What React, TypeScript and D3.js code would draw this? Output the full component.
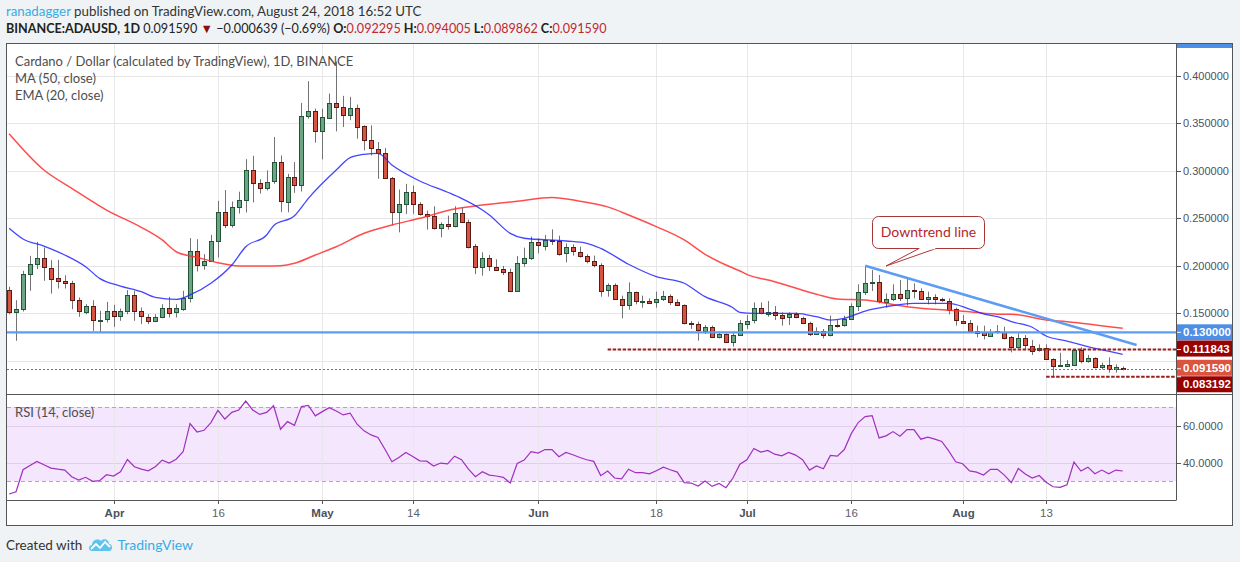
import { useEffect, useRef } from "react";
import * as d3 from "d3";

// Daily candles from 2018-03-17 to 2018-08-24
const START_DATE = "2018-03-17";

const opens = [
  0.1744, 0.1508, 0.1543, 0.1912, 0.2017, 0.2081, 0.1982, 0.187, 0.1838, 0.1814,
  0.1638, 0.1519, 0.1579, 0.1428, 0.1431, 0.1519, 0.1466, 0.1519, 0.1691, 0.1519,
  0.1466, 0.1428, 0.1466, 0.1561, 0.1508, 0.1554, 0.1666, 0.2158, 0.2007, 0.2052,
  0.2263, 0.2568, 0.2428, 0.2621, 0.2691, 0.3007, 0.287, 0.282, 0.2887, 0.3092,
  0.268, 0.294, 0.2852, 0.3574, 0.3627, 0.3415, 0.3563, 0.3718, 0.3672, 0.3591,
  0.3665, 0.3468, 0.332, 0.3232, 0.319, 0.2926, 0.257, 0.2652, 0.2782, 0.2652,
  0.2546, 0.2521, 0.2398, 0.244, 0.2423, 0.2557, 0.2465, 0.2205, 0.1983, 0.2079,
  0.199, 0.1963, 0.1931, 0.1731, 0.2026, 0.2079, 0.2247, 0.2216, 0.2275, 0.2265,
  0.2131, 0.2195, 0.2149, 0.2107, 0.2054, 0.2009, 0.1738, 0.1794, 0.1647, 0.158,
  0.172, 0.1626, 0.1629, 0.1612, 0.1647, 0.1682, 0.1622, 0.1587, 0.1394, 0.1384,
  0.1317, 0.1359, 0.1254, 0.1282, 0.1194, 0.1271, 0.1394, 0.1422, 0.1552, 0.15,
  0.1517, 0.1485, 0.1454, 0.1489, 0.1454, 0.1401, 0.1285, 0.1317, 0.1278, 0.138,
  0.1373, 0.1436, 0.1577, 0.1721, 0.1815, 0.1826, 0.1622, 0.165, 0.17, 0.1657,
  0.1745, 0.1738, 0.1647, 0.1668, 0.1647, 0.1633, 0.1542, 0.1422, 0.1401, 0.1317,
  0.1307, 0.1264, 0.131, 0.1307, 0.1247, 0.1138, 0.1236, 0.1156, 0.1106, 0.1131,
  0.1015, 0.0942, 0.0949, 0.0949, 0.111, 0.0991, 0.1026, 0.0927, 0.0952, 0.0906,
  0.0923,
];
const highs = [
  0.1779, 0.1638, 0.1947, 0.2105, 0.2252, 0.2193, 0.2059, 0.2063, 0.1901, 0.1842,
  0.1666, 0.1596, 0.1638, 0.1526, 0.162, 0.1589, 0.155, 0.1744, 0.1737, 0.1561,
  0.149, 0.149, 0.1596, 0.1673, 0.1596, 0.1737, 0.2291, 0.228, 0.2123, 0.2326,
  0.2684, 0.2797, 0.2677, 0.278, 0.3123, 0.3158, 0.2912, 0.3004, 0.3356, 0.3162,
  0.2968, 0.3092, 0.3715, 0.3943, 0.3655, 0.3655, 0.3813, 0.415, 0.3789, 0.3778,
  0.3697, 0.3479, 0.3479, 0.3303, 0.324, 0.2935, 0.2803, 0.2863, 0.2845, 0.2669,
  0.2581, 0.2627, 0.2458, 0.2528, 0.2627, 0.2616, 0.2486, 0.223, 0.2142, 0.2114,
  0.2068, 0.1999, 0.197, 0.2103, 0.2191, 0.2307, 0.229, 0.2324, 0.2384, 0.2317,
  0.2237, 0.2226, 0.2202, 0.2121, 0.2107, 0.2026, 0.1815, 0.1815, 0.1686, 0.1826,
  0.1728, 0.1686, 0.1657, 0.1728, 0.1735, 0.17, 0.1647, 0.1594, 0.1419, 0.1412,
  0.1377, 0.137, 0.1307, 0.1289, 0.13, 0.1429, 0.1482, 0.1615, 0.1615, 0.1629,
  0.1577, 0.151, 0.151, 0.151, 0.1464, 0.1412, 0.1352, 0.1335, 0.1475, 0.1429,
  0.1475, 0.1605, 0.1805, 0.2001, 0.1956, 0.1903, 0.171, 0.1805, 0.185, 0.1868,
  0.1815, 0.1763, 0.1728, 0.17, 0.1664, 0.1657, 0.1559, 0.1482, 0.1429, 0.137,
  0.137, 0.1335, 0.1377, 0.1359, 0.1261, 0.1289, 0.1271, 0.1219, 0.1173, 0.1173,
  0.1026, 0.1085, 0.1008, 0.112, 0.1142, 0.1061, 0.1036, 0.098, 0.1036, 0.0963,
  0.094,
];
const lows = [
  0.149, 0.121, 0.1519, 0.1737, 0.1965, 0.1842, 0.1708, 0.1761, 0.1761, 0.1543,
  0.1463, 0.149, 0.1315, 0.1298, 0.1403, 0.1357, 0.1421, 0.149, 0.1421, 0.1386,
  0.1386, 0.1407, 0.1449, 0.1456, 0.1456, 0.1526, 0.1614, 0.194, 0.1958, 0.2045,
  0.2088, 0.2396, 0.2403, 0.255, 0.2561, 0.2667, 0.2761, 0.2792, 0.2863, 0.2564,
  0.2564, 0.2768, 0.2782, 0.3549, 0.3296, 0.312, 0.3549, 0.3415, 0.3461, 0.3532,
  0.3338, 0.3215, 0.3162, 0.2916, 0.2916, 0.2423, 0.2352, 0.2546, 0.2546, 0.2528,
  0.2381, 0.2381, 0.23, 0.2381, 0.2405, 0.2458, 0.2183, 0.1912, 0.1896, 0.1945,
  0.1945, 0.1903, 0.1725, 0.1725, 0.199, 0.2061, 0.2131, 0.2163, 0.2219, 0.2107,
  0.2037, 0.2107, 0.2086, 0.2026, 0.1984, 0.1675, 0.1675, 0.164, 0.1447, 0.1538,
  0.1594, 0.1559, 0.1601, 0.1559, 0.163, 0.1587, 0.158, 0.1384, 0.1335, 0.1212,
  0.1282, 0.125, 0.1236, 0.119, 0.1149, 0.1264, 0.1335, 0.1394, 0.1489, 0.1464,
  0.1429, 0.137, 0.1377, 0.1447, 0.1394, 0.1261, 0.1271, 0.1236, 0.1257, 0.1349,
  0.1359, 0.1429, 0.1524, 0.1693, 0.1735, 0.1605, 0.1559, 0.1629, 0.1629, 0.158,
  0.1657, 0.164, 0.1594, 0.1594, 0.1622, 0.1489, 0.137, 0.1387, 0.13, 0.1247,
  0.1226, 0.1254, 0.1285, 0.1226, 0.1089, 0.1131, 0.112, 0.1061, 0.1096, 0.1008,
  0.0832, 0.0938, 0.0938, 0.0945, 0.0973, 0.098, 0.092, 0.091, 0.0875, 0.0875,
  0.0899,
];
const closes = [
  0.1508, 0.1543, 0.1912, 0.2017, 0.2081, 0.1982, 0.187, 0.1838, 0.1814, 0.1638,
  0.1519, 0.1579, 0.1428, 0.1431, 0.1519, 0.1466, 0.1519, 0.1691, 0.1519, 0.1466,
  0.1428, 0.1466, 0.1561, 0.1508, 0.1554, 0.1666, 0.2158, 0.2007, 0.2052, 0.2263,
  0.2568, 0.2428, 0.2621, 0.2691, 0.3007, 0.287, 0.282, 0.2887, 0.3092, 0.268,
  0.294, 0.2852, 0.3574, 0.3627, 0.3415, 0.3563, 0.3718, 0.3672, 0.3591, 0.3665,
  0.3468, 0.332, 0.3232, 0.319, 0.2926, 0.257, 0.2652, 0.2782, 0.2652, 0.2546,
  0.2521, 0.2398, 0.244, 0.2423, 0.2557, 0.2465, 0.2205, 0.1983, 0.2079, 0.199,
  0.1963, 0.1931, 0.1731, 0.2026, 0.2079, 0.2247, 0.2216, 0.2275, 0.2265, 0.2131,
  0.2195, 0.2149, 0.2107, 0.2054, 0.2009, 0.1738, 0.1794, 0.1647, 0.158, 0.172,
  0.1626, 0.1629, 0.1612, 0.1647, 0.1682, 0.1622, 0.1587, 0.1394, 0.1384, 0.1317,
  0.1359, 0.1254, 0.1282, 0.1194, 0.1271, 0.1394, 0.1422, 0.1552, 0.15, 0.1517,
  0.1485, 0.1454, 0.1489, 0.1454, 0.1401, 0.1285, 0.1317, 0.1278, 0.138, 0.1373,
  0.1436, 0.1577, 0.1721, 0.1815, 0.1826, 0.1622, 0.165, 0.17, 0.1657, 0.1745,
  0.1738, 0.1657, 0.1668, 0.1647, 0.1633, 0.1542, 0.1422, 0.1401, 0.1317, 0.13,
  0.1278, 0.1307, 0.1303, 0.1247, 0.1138, 0.1236, 0.1159, 0.1106, 0.1131, 0.1015,
  0.0938, 0.0956, 0.0966, 0.111, 0.0991, 0.1026, 0.0927, 0.0952, 0.0906, 0.0931,
  0.0916,
];

// RSI (14, close), one value per candle
const rsiValues = [
  23.0, 24.2, 36.1, 38.4, 40.6, 38.8, 37.0, 36.4, 35.9, 32.3,
  30.5, 32.0, 29.8, 30.2, 33.4, 32.7, 35.0, 41.6, 37.7, 36.4,
  35.5, 37.7, 41.3, 39.7, 41.8, 45.8, 61.0, 56.5, 57.4, 61.6,
  68.2, 63.5, 67.1, 68.4, 73.2, 68.4, 66.0, 67.1, 70.7, 58.0,
  62.1, 60.1, 70.2, 70.9, 65.2, 67.5, 69.6, 67.8, 65.7, 66.6,
  60.7, 57.1, 54.9, 53.5, 47.2, 40.4, 42.7, 45.4, 43.3, 40.9,
  40.7, 38.1, 39.7, 39.3, 43.4, 41.5, 36.4, 32.3, 35.0, 33.2,
  32.7, 32.0, 28.9, 39.5, 41.3, 45.9, 45.1, 47.0, 47.0, 43.1,
  45.4, 44.2, 42.7, 41.5, 40.6, 32.9, 35.4, 31.6, 31.1, 36.4,
  34.5, 34.5, 33.9, 35.5, 37.5, 36.1, 34.8, 29.1, 28.9, 27.3,
  30.0, 27.1, 28.7, 26.4, 31.6, 39.1, 41.5, 47.6, 45.6, 46.5,
  44.5, 43.6, 45.4, 44.0, 41.5, 35.9, 38.1, 36.6, 43.8, 43.4,
  47.0, 55.6, 61.6, 64.8, 65.3, 53.3, 54.4, 56.7, 54.2, 57.8,
  57.8, 52.6, 53.7, 52.6, 51.4, 46.3, 40.4, 39.3, 35.5, 34.8,
  33.2, 36.3, 36.3, 33.2, 29.1, 36.8, 33.8, 31.6, 33.0, 29.3,
  26.9, 26.6, 28.0, 40.2, 35.4, 37.5, 33.9, 35.9, 33.9, 35.9,
  35.4,
];

// MA (50, close)
const maPoints: [string, number][] = [
  ["2018-03-17", 0.339], ["2018-03-22", 0.3008], ["2018-03-26", 0.2816],
  ["2018-03-31", 0.2587], ["2018-04-05", 0.2405], ["2018-04-08", 0.2272],
  ["2018-04-10", 0.2148], ["2018-04-13", 0.2089], ["2018-04-16", 0.2033],
  ["2018-04-19", 0.1998], ["2018-04-23", 0.1998], ["2018-04-25", 0.2001],
  ["2018-04-27", 0.2026], ["2018-04-30", 0.2114], ["2018-05-03", 0.2201],
  ["2018-05-07", 0.2342], ["2018-05-11", 0.243], ["2018-05-15", 0.25],
  ["2018-05-20", 0.2598], ["2018-05-24", 0.264], ["2018-05-29", 0.268],
  ["2018-06-03", 0.272], ["2018-06-07", 0.268], ["2018-06-11", 0.262],
  ["2018-06-14", 0.2535], ["2018-06-18", 0.2412], ["2018-06-22", 0.2272],
  ["2018-06-25", 0.2121], ["2018-06-28", 0.2008], ["2018-06-30", 0.1945],
  ["2018-07-01", 0.191], ["2018-07-05", 0.1833], ["2018-07-11", 0.17],
  ["2018-07-14", 0.165], ["2018-07-18", 0.164], ["2018-07-21", 0.1605],
  ["2018-07-24", 0.157], ["2018-07-28", 0.1542], ["2018-08-02", 0.1517],
  ["2018-08-06", 0.149], ["2018-08-08", 0.149], ["2018-08-13", 0.143],
  ["2018-08-16", 0.1412], ["2018-08-24", 0.1342],
];

// EMA (20, close)
const emaPoints: [string, number][] = [
  ["2018-03-17", 0.2395], ["2018-03-19", 0.2282], ["2018-03-22", 0.2208],
  ["2018-03-25", 0.2114], ["2018-03-28", 0.199], ["2018-03-30", 0.1868],
  ["2018-04-02", 0.1787], ["2018-04-05", 0.1728], ["2018-04-07", 0.1668],
  ["2018-04-10", 0.1647], ["2018-04-12", 0.1693], ["2018-04-15", 0.1816],
  ["2018-04-18", 0.2008], ["2018-04-20", 0.2201], ["2018-04-23", 0.2324],
  ["2018-04-24", 0.2422], ["2018-04-27", 0.2527], ["2018-04-29", 0.271],
  ["2018-05-03", 0.3008], ["2018-05-05", 0.3138], ["2018-05-07", 0.3174],
  ["2018-05-09", 0.3184], ["2018-05-11", 0.3061], ["2018-05-15", 0.2893],
  ["2018-05-19", 0.2774], ["2018-05-21", 0.271], ["2018-05-24", 0.2587],
  ["2018-05-25", 0.2535], ["2018-05-28", 0.2342], ["2018-05-30", 0.229],
  ["2018-06-05", 0.2261], ["2018-06-08", 0.2237], ["2018-06-10", 0.2184],
  ["2018-06-14", 0.2016], ["2018-06-18", 0.1885], ["2018-06-22", 0.1816],
  ["2018-06-25", 0.1675], ["2018-06-29", 0.1559], ["2018-06-30", 0.151],
  ["2018-07-02", 0.15], ["2018-07-08", 0.15], ["2018-07-11", 0.1464],
  ["2018-07-13", 0.1429], ["2018-07-15", 0.1447], ["2018-07-18", 0.1524],
  ["2018-07-21", 0.157], ["2018-07-25", 0.1605], ["2018-07-30", 0.1605],
  ["2018-08-02", 0.1545], ["2018-08-04", 0.1493], ["2018-08-06", 0.1464],
  ["2018-08-08", 0.1412], ["2018-08-11", 0.1353], ["2018-08-13", 0.1261],
  ["2018-08-16", 0.1208], ["2018-08-19", 0.1148], ["2018-08-21", 0.1114],
  ["2018-08-24", 0.1068],
];

// Drawings
const trendPoints: [string, number][] = [["2018-07-18", 0.2001], ["2018-08-26", 0.1166]];
const supportLevel = 0.13;
const upperLevel = 0.111843;
const upperLevelStart = "2018-06-11";
const lowerLevel = 0.083192;
const lowerLevelStart = "2018-08-13";
const lastPrice = 0.09159;

const priceTicks = [0.1, 0.15, 0.2, 0.25, 0.3, 0.35, 0.4];
const hiddenPriceTicks = [0.1]; // covered by the price tags
const rsiTicks = [40, 60];
const timeTicks = [
  "2018-04-01", "2018-04-16", "2018-05-01", "2018-05-14", "2018-06-01",
  "2018-06-18", "2018-07-01", "2018-07-16", "2018-08-01", "2018-08-13",
];
const timeLabels = ["Apr", "16", "May", "14", "Jun", "18", "Jul", "16", "Aug", "13"];

const W = 1240;
const H = 562;
const FONT = "Lato, 'Noto Sans', sans-serif";
const AXIS_FONT = "'Liberation Sans', Arial, sans-serif";

const day = (s: string) => new Date(s + "T00:00:00Z");

export default function App() {
  const ref = useRef<HTMLDivElement>(null);

  useEffect(() => {
    if (!ref.current) return;
    const container = ref.current;
    container.innerHTML = "";

    // pane geometry
    const plotL = 7;
    const plotR = 1176;
    const mainT = 43;
    const mainB = 394;
    const rsiT = 395;
    const rsiB = 500;
    const outerR = 1232.5;
    const outerB = 525.5;

    const x = d3
      .scaleUtc()
      .domain([day("2018-04-01"), day("2018-08-24")])
      .range([113.5, 1122.7]);
    const y = d3.scaleLinear().domain([0, 0.4]).range([455.8, 75.8]);
    const yR = d3.scaleLinear().domain([40, 60]).range([462.5, 425.5]);

    const svg = d3
      .select(container)
      .append("svg")
      .attr("width", W)
      .attr("height", H)
      .style("display", "block");

    svg.append("rect").attr("width", W).attr("height", H).attr("fill", "#f0f3f6");

    // header
    const h1 = svg
      .append("text")
      .attr("x", 6)
      .attr("y", 16)
      .attr("font-family", FONT)
      .attr("font-size", 13.3)
      .attr("fill", "#333");
    h1.append("tspan").attr("fill", "#38ace4").text("ranadagger");
    h1.append("tspan").text(" published on TradingView.com, August 24, 2018 16:52 UTC");

    const h2 = svg
      .append("text")
      .attr("x", 6)
      .attr("y", 33)
      .attr("font-family", FONT)
      .attr("font-size", 12.6)
      .attr("fill", "#222");
    h2.append("tspan").attr("font-weight", "bold").text("BINANCE:ADAUSD, 1D");
    h2.append("tspan").text(" 0.091590 ");
    h2.append("tspan").attr("fill", "#8e0c0c").text("▼");
    h2.append("tspan").text(" −0.000639 (−0.69%) ");
    const ohlc: [string, string][] = [
      ["O:", "0.092295"],
      ["H:", "0.094005"],
      ["L:", "0.089862"],
      ["C:", "0.091590"],
    ];
    ohlc.forEach(([k, v], i) => {
      h2.append("tspan").attr("font-weight", "bold").text((i ? " " : "") + k);
      h2.append("tspan").attr("fill", "#c0282d").text(v);
    });

    // chart block background
    svg
      .append("rect")
      .attr("x", 6.5)
      .attr("y", mainT + 0.5)
      .attr("width", outerR - 6.5)
      .attr("height", outerB - mainT - 0.5)
      .attr("fill", "#fff");

    // RSI band
    svg
      .append("rect")
      .attr("x", plotL)
      .attr("y", yR(70))
      .attr("width", plotR - plotL)
      .attr("height", yR(30) - yR(70))
      .attr("fill", "#f3e6fd");

    // horizontal grid
    svg
      .append("g")
      .selectAll("line")
      .data(priceTicks)
      .join("line")
      .attr("x1", plotL)
      .attr("x2", plotR)
      .attr("y1", (d) => Math.round(y(d)) + 0.5)
      .attr("y2", (d) => Math.round(y(d)) + 0.5)
      .attr("stroke", "#e6e6e6");

    svg
      .append("g")
      .selectAll("line")
      .data(rsiTicks)
      .join("line")
      .attr("x1", plotL)
      .attr("x2", plotR)
      .attr("y1", (d) => Math.round(yR(d)) + 0.5)
      .attr("y2", (d) => Math.round(yR(d)) + 0.5)
      .attr("stroke", "#dfcdea");

    // vertical grid
    svg
      .append("g")
      .selectAll("line")
      .data(timeTicks)
      .join("line")
      .attr("x1", (d) => Math.round(x(day(d))) + 0.5)
      .attr("x2", (d) => Math.round(x(day(d))) + 0.5)
      .attr("y1", mainT)
      .attr("y2", rsiB)
      .attr("stroke", "#e6e6e6")
      .attr("opacity", 0.9);

    // RSI 70 / 30 dashed bands
    [70, 30].forEach((v) => {
      svg
        .append("line")
        .attr("x1", plotL)
        .attr("x2", plotR)
        .attr("y1", Math.round(yR(v)) + 0.5)
        .attr("y2", Math.round(yR(v)) + 0.5)
        .attr("stroke", "#b4a3c0")
        .attr("stroke-dasharray", "4,3");
    });

    // clips
    const defs = svg.append("defs");
    defs
      .append("clipPath")
      .attr("id", "main-clip")
      .append("rect")
      .attr("x", plotL)
      .attr("y", mainT)
      .attr("width", plotR - plotL)
      .attr("height", mainB - mainT);
    defs
      .append("clipPath")
      .attr("id", "rsi-clip")
      .append("rect")
      .attr("x", plotL)
      .attr("y", rsiT)
      .attr("width", plotR - plotL)
      .attr("height", rsiB - rsiT);

    const main = svg.append("g").attr("clip-path", "url(#main-clip)");

    // candles
    const startDate = day(START_DATE);
    const candles = opens.map((o, i) => ({
      date: d3.utcDay.offset(startDate, i),
      o,
      h: highs[i],
      l: lows[i],
      c: closes[i],
    }));

    const cg = main.append("g");
    candles.forEach((d) => {
      const cx = Math.round(x(d.date)) + 0.5;
      const up = d.c >= d.o;
      cg.append("line")
        .attr("x1", cx)
        .attr("x2", cx)
        .attr("y1", y(d.h))
        .attr("y2", y(d.l))
        .attr("stroke", "#737375");
      const top = y(Math.max(d.o, d.c));
      const bh = Math.max(1, Math.abs(y(d.o) - y(d.c)));
      cg.append("rect")
        .attr("x", cx - 2)
        .attr("y", Math.round(top) + 0.5)
        .attr("width", 4)
        .attr("height", Math.max(1, Math.round(bh)))
        .attr("fill", up ? "#6ba583" : "#d75442")
        .attr("stroke", up ? "#225437" : "#5b1a13");
    });

    // MA & EMA
    const indicatorLine = d3
      .line<[string, number]>()
      .x((d) => x(day(d[0])))
      .y((d) => y(d[1]))
      .curve(d3.curveMonotoneX);

    main
      .append("path")
      .datum(maPoints)
      .attr("fill", "none")
      .attr("stroke", "#ff2e2e")
      .attr("stroke-opacity", 0.85)
      .attr("stroke-width", 1.5)
      .attr("d", indicatorLine);

    main
      .append("path")
      .datum(emaPoints)
      .attr("fill", "none")
      .attr("stroke", "#2424ff")
      .attr("stroke-opacity", 0.85)
      .attr("stroke-width", 1.3)
      .attr("d", indicatorLine);

    // drawings
    main
      .append("line")
      .attr("x1", plotL)
      .attr("x2", plotR)
      .attr("y1", y(supportLevel))
      .attr("y2", y(supportLevel))
      .attr("stroke", "#5c9cf2")
      .attr("stroke-width", 2.2);

    main
      .append("line")
      .attr("x1", x(day(upperLevelStart)))
      .attr("x2", plotR)
      .attr("y1", y(upperLevel))
      .attr("y2", y(upperLevel))
      .attr("stroke", "#9c1c1c")
      .attr("stroke-width", 2)
      .attr("stroke-dasharray", "3.5,1.5");

    main
      .append("line")
      .attr("x1", x(day(lowerLevelStart)))
      .attr("x2", plotR)
      .attr("y1", y(lowerLevel))
      .attr("y2", y(lowerLevel))
      .attr("stroke", "#9c1c1c")
      .attr("stroke-width", 2)
      .attr("stroke-dasharray", "3.5,1.5");

    main
      .append("line")
      .attr("x1", plotL)
      .attr("x2", plotR)
      .attr("y1", Math.round(y(lastPrice)) + 0.5)
      .attr("y2", Math.round(y(lastPrice)) + 0.5)
      .attr("stroke", "#d9473a")
      .attr("stroke-dasharray", "2,2");

    main
      .append("line")
      .attr("x1", x(day(trendPoints[0][0])))
      .attr("y1", y(trendPoints[0][1]))
      .attr("x2", x(day(trendPoints[1][0])))
      .attr("y2", y(trendPoints[1][1]))
      .attr("stroke", "#5c9cf2")
      .attr("stroke-width", 2.5);

    // callout
    const call = main.append("g");
    call
      .append("rect")
      .attr("x", 872.5)
      .attr("y", 216.5)
      .attr("width", 112)
      .attr("height", 32)
      .attr("rx", 6)
      .attr("fill", "#fff")
      .attr("stroke", "#a93636");
    call
      .append("path")
      .attr("d", "M919,248.5 L886,266 L936,248.5")
      .attr("fill", "#fff")
      .attr("stroke", "#a93636");
    call
      .append("line")
      .attr("x1", 919.8)
      .attr("x2", 935.2)
      .attr("y1", 248.5)
      .attr("y2", 248.5)
      .attr("stroke", "#fff")
      .attr("stroke-width", 1.5);
    call
      .append("text")
      .attr("x", 928.5)
      .attr("y", 237)
      .attr("text-anchor", "middle")
      .attr("font-family", FONT)
      .attr("font-size", 14)
      .attr("fill", "#b3272b")
      .text("Downtrend line");

    // RSI line
    const rsi = svg.append("g").attr("clip-path", "url(#rsi-clip)");
    const rsiLine = d3
      .line<number>()
      .x((_, i) => x(d3.utcDay.offset(startDate, i)))
      .y((d) => yR(d));
    rsi
      .append("path")
      .datum(rsiValues)
      .attr("fill", "none")
      .attr("stroke", "#a12fc0")
      .attr("stroke-width", 1.2)
      .attr("d", rsiLine);

    // legends
    const legend = svg
      .append("g")
      .attr("font-family", FONT)
      .attr("font-size", 13)
      .attr("fill", "#4e4e4e");
    legend
      .append("text")
      .attr("x", 15)
      .attr("y", 65.5)
      .text("Cardano / Dollar (calculated by TradingView), 1D, BINANCE");
    legend.append("text").attr("x", 15).attr("y", 82.5).text("MA (50, close)");
    legend.append("text").attr("x", 15).attr("y", 99.5).text("EMA (20, close)");
    legend.append("text").attr("x", 15).attr("y", 416.5).text("RSI (14, close)");

    // frame lines
    const frame = svg.append("g").attr("stroke", "#555").attr("fill", "none");
    frame
      .append("rect")
      .attr("x", 6.5)
      .attr("y", mainT + 0.5)
      .attr("width", outerR - 6.5)
      .attr("height", outerB - mainT - 0.5);
    frame
      .append("line")
      .attr("x1", plotR + 0.5)
      .attr("x2", plotR + 0.5)
      .attr("y1", mainT)
      .attr("y2", rsiB);
    frame
      .append("line")
      .attr("x1", 6.5)
      .attr("x2", outerR)
      .attr("y1", mainB + 0.5)
      .attr("y2", mainB + 0.5);
    frame
      .append("line")
      .attr("x1", 6.5)
      .attr("x2", plotR + 0.5)
      .attr("y1", rsiB + 0.5)
      .attr("y2", rsiB + 0.5);

    // top of price scale
    svg
      .append("rect")
      .attr("x", plotR + 1)
      .attr("y", mainT + 1)
      .attr("width", outerR - plotR - 1.5)
      .attr("height", 4)
      .attr("fill", "#4d8ee6");

    // price axis
    const pa = svg
      .append("g")
      .attr("font-family", AXIS_FONT)
      .attr("font-size", 11)
      .attr("fill", "#4c525e");
    priceTicks.forEach((p) => {
      const yy = Math.round(y(p)) + 0.5;
      pa.append("line")
        .attr("x1", plotR + 1)
        .attr("x2", plotR + 5)
        .attr("y1", yy)
        .attr("y2", yy)
        .attr("stroke", "#555");
      if (hiddenPriceTicks.includes(p)) return;
      pa.append("text")
        .attr("x", 1183)
        .attr("y", yy)
        .attr("dy", "0.36em")
        .text(p.toFixed(6));
    });
    rsiTicks.forEach((v) => {
      const yy = Math.round(yR(v)) + 0.5;
      pa.append("line")
        .attr("x1", plotR + 1)
        .attr("x2", plotR + 5)
        .attr("y1", yy)
        .attr("y2", yy)
        .attr("stroke", "#555");
      pa.append("text")
        .attr("x", 1183)
        .attr("y", yy)
        .attr("dy", "0.36em")
        .text(v.toFixed(4));
    });

    // price labels
    const tags: [number, number, string][] = [
      [supportLevel, y(supportLevel), "#4d8ee6"],
      [upperLevel, y(upperLevel) - 1, "#990000"],
      [lastPrice, y(lastPrice) - 1, "#db5440"],
      [lowerLevel, y(lowerLevel) + 7.5, "#990000"],
    ];
    tags.forEach(([v, cy, col]) => {
      svg
        .append("rect")
        .attr("x", plotR + 1)
        .attr("y", cy - 8)
        .attr("width", outerR - plotR - 1.5)
        .attr("height", 16)
        .attr("fill", col);
      svg
        .append("line")
        .attr("x1", plotR + 1)
        .attr("x2", plotR + 5)
        .attr("y1", y(v))
        .attr("y2", y(v))
        .attr("stroke", "#fff");
      svg
        .append("text")
        .attr("x", 1183)
        .attr("y", cy)
        .attr("dy", "0.36em")
        .attr("font-family", AXIS_FONT)
        .attr("font-size", 11.5)
        .attr("font-weight", "bold")
        .attr("fill", "#fff")
        .text(v.toFixed(6));
    });

    // time axis
    const ta = svg.append("g").attr("font-family", AXIS_FONT).attr("font-size", 11.5);
    timeTicks.forEach((t, i) => {
      const xx = Math.round(x(day(t))) + 0.5;
      const isMonth = /^[A-Z]/.test(timeLabels[i]);
      ta.append("line")
        .attr("x1", xx)
        .attr("x2", xx)
        .attr("y1", rsiB + 1)
        .attr("y2", rsiB + 4)
        .attr("stroke", "#555");
      ta.append("text")
        .attr("x", xx)
        .attr("y", 517)
        .attr("text-anchor", "middle")
        .attr("font-weight", isMonth ? "bold" : "normal")
        .attr("fill", isMonth ? "#4c525e" : "#5d606b")
        .text(timeLabels[i]);
    });

    // footer
    svg
      .append("text")
      .attr("x", 6)
      .attr("y", 550)
      .attr("font-family", FONT)
      .attr("font-size", 13.5)
      .attr("fill", "#333")
      .text("Created with");
    const logo = svg.append("g").attr("transform", "translate(88,537)");
    logo
      .append("path")
      .attr(
        "d",
        "M4,14 C0,14 0,8 4,8 C4,3 10,1 13,4 C15,1 21,2 21,7 C25,7 25,14 21,14 Z"
      )
      .attr("fill", "#5ec3ef");
    logo
      .append("polyline")
      .attr("points", "3,12 8,7 12,11 17,5 22,10")
      .attr("fill", "none")
      .attr("stroke", "#fff")
      .attr("stroke-width", 1.8);
    svg
      .append("text")
      .attr("x", 117.5)
      .attr("y", 550)
      .attr("font-family", FONT)
      .attr("font-size", 14)
      .attr("fill", "#38ace4")
      .text("TradingView");

    return () => {
      container.innerHTML = "";
    };
  }, []);

  return <div ref={ref} style={{ position: "absolute", left: 0, top: 0 }} />;
}
